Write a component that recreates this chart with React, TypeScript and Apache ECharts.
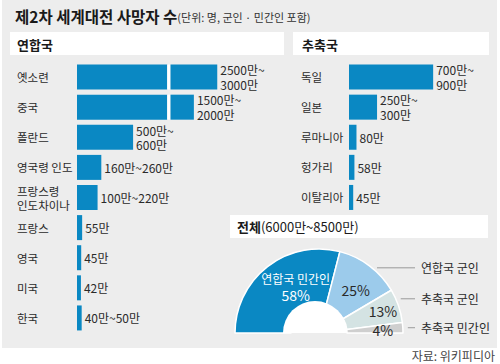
import React, { useEffect, useRef } from 'react';
import * as echarts from 'echarts';

// ---- data (단위: 만 명) ----
const alliedCountries = ['옛소련', '중국', '폴란드', '영국령 인도', '프랑스령\n인도차이나', '프랑스', '영국', '미국', '한국'];
const alliedDeathsMax = [3000, 2000, 600, 260, 220, 55, 45, 42, 50];
const alliedValueLabels = ['2500만~\n3000만', '1500만~\n2000만', '500만~\n600만', '160만~260만', '100만~220만', '55만', '45만', '42만', '40만~50만'];

const axisCountries = ['독일', '일본', '루마니아', '헝가리', '이탈리아'];
const axisDeathsMax = [900, 300, 80, 58, 45];
const axisValueLabels = ['700만~\n900만', '250만~\n300만', '80만', '58만', '45만'];

const totalNames = ['연합국 민간인', '연합국 군인', '추축국 군인', '추축국 민간인'];
const totalShares = [58, 25, 13, 4];

const titleMain = '제2차 세계대전 사망자 수';
const titleSub = '(단위: 명, 군인 · 민간인 포함)';
const alliedHeader = '연합국';
const axisHeader = '추축국';
const totalHeaderBold = '전체';
const totalHeaderRest = '(6000만~8500만)';
const sourceText = '자료: 위키피디아';

// ---- styles / layout ----
const FONT = '"Noto Sans CJK KR", "Noto Sans", sans-serif';
const BLUE = '#0a88c3';
const PIE_COLORS = [BLUE, '#9ccbeb', '#d4e3e3', '#cfcfcf'];
const TEXT = '#2a2a2a';

// broken-bar parameters (axis units)
const BREAK_AT = 1000;
const BREAK_GAP = 35;
const OVER_SCALE = 0.25;

// donut geometry
const CX = 319;
const CY = 333;
const R_IN = 28;
const R_OUT = 84;
const HOLE_CX = 315;
const HOLE_R = 32;
const INNER_NUDGE = [[11, -2], [3, 1.5], [11, -3.5], [8, 0.5]];
const OUTER_NUDGE = [0, 2, -7, 0];

function midAngleDeg(i: number): number {
  const total = totalShares.reduce((a, b) => a + b, 0);
  let before = 0;
  for (let j = 0; j < i; j++) before += totalShares[j];
  return 180 - (180 * (before + totalShares[i] / 2)) / total;
}

function barSeries(values: number[], labels: string[], gridIdx: number, stack: string): any[] {
  const broken = values.map((v) => v > BREAK_AT);
  const labelBase = {
    show: false,
    position: 'right',
    distance: 3,
    color: TEXT,
    fontSize: 12,
    lineHeight: 14.5,
    fontFamily: FONT,
    formatter: (p: any) => labels[p.dataIndex],
  };
  const common = {
    type: 'bar',
    xAxisIndex: gridIdx,
    yAxisIndex: gridIdx,
    stack,
    barWidth: 25,
    silent: true,
  };
  return [
    {
      ...common,
      itemStyle: { color: BLUE },
      label: labelBase,
      data: values.map((v, i) => ({
        value: broken[i] ? BREAK_AT - BREAK_GAP : v,
        label: { show: !broken[i] },
      })),
    },
    {
      ...common,
      itemStyle: { color: '#ffffff' },
      data: values.map((v, i) => (broken[i] ? BREAK_GAP : '-')),
    },
    {
      ...common,
      itemStyle: { color: BLUE },
      label: labelBase,
      data: values.map((v, i) =>
        broken[i] ? { value: (v - BREAK_AT) * OVER_SCALE, label: { show: true } } : '-'
      ),
    },
  ];
}

function catAxis(data: string[], gridIndex: number, margin: number): any {
  return {
    type: 'category',
    gridIndex,
    data,
    inverse: true,
    axisLine: { show: false },
    axisTick: { show: false },
    splitLine: { show: false },
    axisLabel: {
      align: 'left',
      margin,
      fontSize: 11.5,
      lineHeight: 14,
      color: TEXT,
      fontFamily: FONT,
      interval: 0,
    },
  };
}

export default function App() {
  const ref = useRef<HTMLDivElement>(null);

  useEffect(() => {
    if (!ref.current) return;
    const chart = echarts.init(ref.current, null, { renderer: 'svg' });

    const option: any = {
      animation: false,
      backgroundColor: '#ffffff',
      textStyle: { fontFamily: FONT },
      grid: [
        { left: 77, top: 62, width: 187, height: 271, outerBoundsMode: 'none', containLabel: false },
        { left: 349, top: 62, width: 93.5, height: 150.5, outerBoundsMode: 'none', containLabel: false },
      ],
      xAxis: [
        { type: 'value', gridIndex: 0, min: 0, max: 2000, show: false },
        { type: 'value', gridIndex: 1, min: 0, max: 1000, show: false },
      ],
      yAxis: [catAxis(alliedCountries, 0, 60), catAxis(axisCountries, 1, 48)],
      graphic: [
        { type: 'rect', z: -10, silent: true, shape: { x: 2, y: 0, width: 495, height: 348 }, style: { fill: '#ededed' } },
        { type: 'rect', z: -9, silent: true, shape: { x: 10, y: 32, width: 274, height: 23 }, style: { fill: '#ffffff' } },
        { type: 'rect', z: -9, silent: true, shape: { x: 293, y: 32, width: 196, height: 23 }, style: { fill: '#ffffff' } },
        { type: 'rect', z: -9, silent: true, shape: { x: 230, y: 215, width: 258, height: 23 }, style: { fill: '#ffffff' } },
        {
          type: 'text', z: 10, x: 15, y: 16,
          style: {
            text: `{t|${titleMain}}{s|${titleSub}}`,
            verticalAlign: 'middle',
            rich: {
              t: { fontSize: 15.5, fontWeight: 'bold', fill: '#1a1a1a', fontFamily: FONT },
              s: { fontSize: 11, fill: '#333333', fontFamily: FONT, padding: [2, 0, 0, 0] },
            },
          },
        },
        { type: 'text', z: 10, x: 17, y: 44, style: { text: alliedHeader, fontSize: 13, fontWeight: 'bold', fill: '#1a1a1a', fontFamily: FONT, verticalAlign: 'middle' } },
        { type: 'text', z: 10, x: 302, y: 44, style: { text: axisHeader, fontSize: 13, fontWeight: 'bold', fill: '#1a1a1a', fontFamily: FONT, verticalAlign: 'middle' } },
        {
          type: 'text', z: 10, x: 237, y: 226.5,
          style: {
            text: `{b|${totalHeaderBold}}{r|${totalHeaderRest}}`,
            verticalAlign: 'middle',
            rich: {
              b: { fontSize: 13, fontWeight: 'bold', fill: '#1a1a1a', fontFamily: FONT },
              r: { fontSize: 13, fill: '#1a1a1a', fontFamily: FONT },
            },
          },
        },
        { type: 'text', z: 10, x: 495, y: 355, style: { text: sourceText, fontSize: 12, fill: '#444444', fontFamily: FONT, align: 'right', verticalAlign: 'middle' } },
      ],
      series: [
        ...barSeries(alliedDeathsMax, alliedValueLabels, 0, 'allied'),
        ...barSeries(axisDeathsMax, axisValueLabels, 1, 'axis'),
        {
          type: 'pie',
          center: [CX, CY],
          radius: [R_IN, R_OUT],
          startAngle: 180,
          endAngle: 0,
          clockwise: true,
          silent: true,
          z: 2,
          itemStyle: { borderColor: '#ffffff', borderWidth: 1.5 },
          label: {
            show: true,
            position: 'inside',
            formatter: (p: any) =>
              p.dataIndex === 0 ? `{n|${p.name}}\n{p|${p.value}%}` : `{d|${p.value}%}`,
            rich: {
              n: { fontSize: 12, color: '#ffffff', lineHeight: 17, fontFamily: FONT },
              p: { fontSize: 14, color: '#ffffff', lineHeight: 17, fontFamily: FONT },
              d: { fontSize: 14, color: TEXT, fontFamily: FONT },
            },
          },
          labelLine: { show: false },
          labelLayout: (p: any) => {
            const i = p.dataIndex;
            const a = (midAngleDeg(i) * Math.PI) / 180;
            const rm = (R_IN + R_OUT) / 2;
            return {
              x: CX + rm * Math.cos(a) + INNER_NUDGE[i][0],
              y: CY - rm * Math.sin(a) + INNER_NUDGE[i][1],
              align: 'center',
              verticalAlign: 'middle',
            };
          },
          data: totalNames.map((name, i) => ({ name, value: totalShares[i], itemStyle: { color: PIE_COLORS[i] } })),
        },
        {
          type: 'pie',
          center: [CX, CY],
          radius: [R_IN, R_OUT],
          startAngle: 180,
          endAngle: 0,
          clockwise: true,
          silent: true,
          z: 1,
          avoidLabelOverlap: false,
          itemStyle: { color: 'rgba(0,0,0,0)', borderWidth: 0 },
          label: { show: true, position: 'outside', formatter: '{b}', fontSize: 12, color: TEXT, fontFamily: FONT },
          labelLine: { show: true, length: 5, length2: 5, lineStyle: { color: '#9a9a9a', width: 1 } },
          labelLayout: (p: any) => {
            const i = p.dataIndex;
            if (i === 0) return {};
            const a = (midAngleDeg(i) * Math.PI) / 180;
            const y = CY - R_OUT * Math.sin(a) + OUTER_NUDGE[i];
            const dy = CY - y;
            const xEdge = CX + Math.sqrt(Math.max(0, R_OUT * R_OUT - dy * dy)) + 5;
            return {
              x: 421,
              y,
              align: 'left',
              verticalAlign: 'middle',
              labelLinePoints: [[xEdge, y], [xEdge, y], [415, y]],
            };
          },
          data: totalNames.map((name, i) => ({
            name,
            value: totalShares[i],
            label: { show: i > 0 },
            labelLine: { show: i > 0 },
          })),
        },
        {
          type: 'pie',
          center: [HOLE_CX, CY],
          radius: [0, HOLE_R],
          startAngle: 180,
          endAngle: 0,
          silent: true,
          z: 3,
          label: { show: false },
          labelLine: { show: false },
          itemStyle: { color: '#ffffff' },
          data: [{ value: 1, name: '' }],
        },
      ],
    };

    chart.setOption(option);
    return () => chart.dispose();
  }, []);

  return <div ref={ref} style={{ position: 'fixed', left: 0, top: 0, width: 500, height: 364 }} />;
}
